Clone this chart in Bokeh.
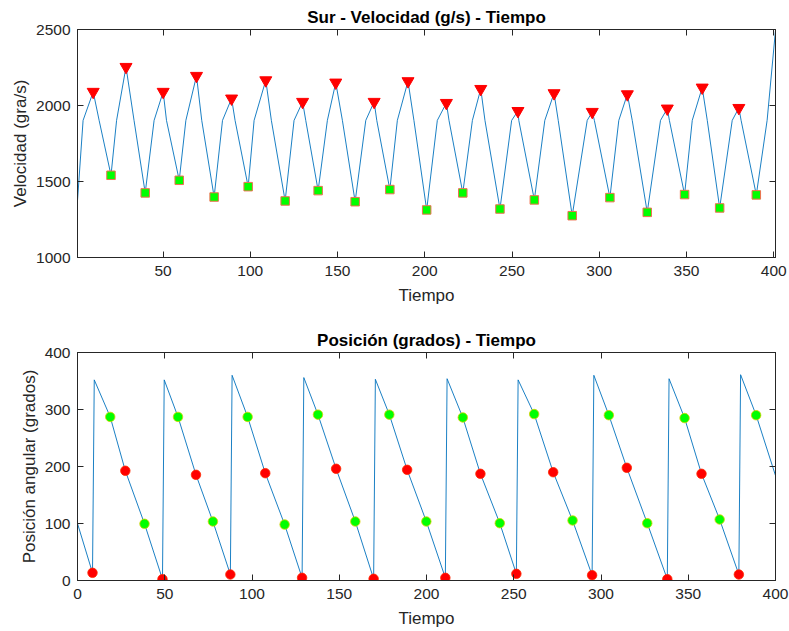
from bokeh.plotting import figure
from bokeh.layouts import column
from bokeh.models import Range1d, LinearAxis, FixedTicker
from bokeh.embed import file_html
from bokeh.resources import INLINE

# ---------------- data ----------------
# Top: velocity vs time
vel_start = (1, 1374)
vel_end = (401, 2495)
vel_peak_t = [10.0, 28.8, 50.1, 69.2, 89.3, 108.9, 130.0, 149.0, 171.0, 190.4,
              212.4, 232.1, 253.4, 274.1, 296.0, 316.1, 339.0, 359.0, 380.0]
vel_peak_v = [2090, 2254, 2090, 2195, 2046, 2166, 2024, 2151, 2024, 2160,
              2017, 2109, 1964, 2081, 1958, 2074, 1980, 2118, 1984]
vel_trough_t = [20.2, 39.8, 59.3, 79.3, 98.8, 120.0, 138.9, 160.1, 180.0, 201.1,
                221.8, 243.1, 262.8, 284.5, 306.1, 327.5, 348.9, 369.0, 390.0]
vel_trough_v = [1541, 1425, 1508, 1398, 1466, 1372, 1440, 1367, 1447, 1313,
                1425, 1319, 1379, 1275, 1394, 1297, 1414, 1326, 1412]
# times where the curve crosses 1902 g/s (rising / falling)
vel_cross_level = 1902
vel_up_t = [4.2, 23.4, 44.9, 63.1, 84.1, 102.2, 125.1, 144.2, 166.2, 184.3,
            207.2, 227.3, 249.8, 268.8, 293.1, 311.2, 335.1, 353.3, 376.2, 396.2]
vel_down_t = [13.4, 33.4, 52.0, 72.2, 91.3, 112.1, 131.8, 152.8, 172.5, 193.8,
              213.9, 234.5, 253.9, 276.5, 297.2, 318.9, 340.2, 361.9, 381.3]

# Bottom: angular position vs time
pos_start = (0, 100)
pos_end = (400, 184)
pos_jump_top_v = [352, 352, 360, 356, 353, 354, 352, 360, 354, 361]
red_low_t = [8.6, 48.7, 87.6, 128.7, 169.7, 210.8, 251.5, 294.9, 338.0, 379.0]
red_low_v = [13.5, 2.3, 10.5, 4.7, 3.0, 4.7, 11.7, 9.3, 2.3, 10.5]
red_mid_t = [27.4, 67.9, 107.6, 148.2, 188.9, 230.9, 272.6, 314.8, 357.6]
red_mid_v = [192.5, 185.4, 188.3, 196.0, 194.2, 187.2, 190.0, 197.7, 187.2]
green_hi_t = [18.75, 57.6, 97.5, 137.8, 178.7, 220.8, 261.7, 304.5, 347.9, 388.9]
green_hi_v = [287, 287, 287, 291, 291, 286, 292, 290, 285, 290]
green_lo_t = [38.4, 77.6, 118.7, 159.2, 199.9, 242.0, 283.7, 326.5, 368.0]
green_lo_v = [99.5, 103.5, 98.2, 103.5, 103.5, 100.5, 105.3, 100.5, 107.0]

# ticks
top_xticks = [50, 100, 150, 200, 250, 300, 350, 400]
top_yticks = [1000, 1500, 2000, 2500]
bot_xticks = [0, 50, 100, 150, 200, 250, 300, 350, 400]
bot_yticks = [0, 100, 200, 300, 400]

# ---------------- build line tables ----------------
vel_pts = [vel_start, vel_end]
vel_pts += list(zip(vel_peak_t, vel_peak_v))
vel_pts += list(zip(vel_trough_t, vel_trough_v))
vel_pts += [(t, vel_cross_level) for t in vel_up_t]
vel_pts += [(t, vel_cross_level) for t in vel_down_t]
vel_pts.sort()
vel_line_t = [a for a, b in vel_pts]
vel_line_v = [b for a, b in vel_pts]

pos_pts = [pos_start, pos_end]
pos_pts += list(zip(red_low_t, red_low_v))
pos_pts += list(zip(red_mid_t, red_mid_v))
pos_pts += list(zip(green_hi_t, green_hi_v))
pos_pts += list(zip(green_lo_t, green_lo_v))
pos_pts += [(t + 1, v) for t, v in zip(red_low_t, pos_jump_top_v)]
pos_pts.sort()
pos_line_t = [a for a, b in pos_pts]
pos_line_v = [b for a, b in pos_pts]

FONT = "Liberation Sans"
AX = "#262626"
BLUE = "#0072BD"


def style(p, xticks, yticks, xlabel, ylabel):
    p.grid.visible = False
    p.outline_line_color = AX
    p.outline_line_width = 1
    p.title.text_font = FONT
    p.title.text_font_size = "17px"
    p.title.text_font_style = "bold"
    p.title.text_color = "#000000"
    p.title.align = "center"
    p.title.standoff = 5
    for ax in p.below + p.left:
        ax.axis_line_color = AX
        ax.major_tick_line_color = AX
        ax.major_tick_in = 6
        ax.major_tick_out = 0
        ax.minor_tick_line_color = None
        ax.major_label_text_font = FONT
        ax.major_label_text_font_size = "15.5px"
        ax.major_label_text_color = AX
        ax.axis_label_text_font = FONT
        ax.axis_label_text_font_size = "17px"
        ax.axis_label_text_font_style = "normal"
        ax.axis_label_text_color = AX
    xa = p.below[0]
    ya = p.left[0]
    xa.ticker = FixedTicker(ticks=xticks)
    ya.ticker = FixedTicker(ticks=yticks)
    xa.axis_label = xlabel
    ya.axis_label = ylabel
    xa.major_label_standoff = 8
    ya.major_label_standoff = 7
    xa.axis_label_standoff = 7
    ya.axis_label_standoff = 3
    # mirrored ticks (box on), no labels
    for side, ticks in (("above", xticks), ("right", yticks)):
        a = LinearAxis(ticker=FixedTicker(ticks=ticks))
        a.major_label_text_font_size = "1px"
        a.major_label_text_color = None
        a.major_label_standoff = 0
        a.major_tick_in = 6
        a.major_tick_out = 0
        a.minor_tick_line_color = None
        a.major_tick_line_color = AX
        a.axis_line_color = AX
        p.add_layout(a, side)


p1 = figure(width=789, height=316, x_range=Range1d(1, 401), y_range=Range1d(1000, 2500),
            output_backend="svg", toolbar_location=None,
            title="Sur - Velocidad (g/s) - Tiempo",
            min_border_left=77, min_border_right=14, min_border_top=29, min_border_bottom=59)
style(p1, top_xticks, top_yticks, "Tiempo", "Velocidad (gra/s)")
p1.line(vel_line_t, vel_line_v, line_color=BLUE, line_width=0.9)
p1.scatter(vel_peak_t, vel_peak_v, marker="inverted_triangle", size=12,
           fill_color="#ff0000", line_color="#ff0000")
p1.scatter(vel_trough_t, vel_trough_v, marker="square", size=8.5,
           fill_color="#00ff00", line_color="#f07050", line_width=1)

p2 = figure(width=789, height=315, x_range=Range1d(0, 400), y_range=Range1d(0, 400),
            output_backend="svg", toolbar_location=None,
            title="Posición (grados) - Tiempo",
            min_border_left=77, min_border_right=14, min_border_top=36, min_border_bottom=51)
style(p2, bot_xticks, bot_yticks, "Tiempo", "Posición angular (grados)")
p2.line(pos_line_t, pos_line_v, line_color=BLUE, line_width=0.9)
p2.scatter(red_low_t + red_mid_t, red_low_v + red_mid_v, marker="circle", size=9.5,
           fill_color="#ff0000", line_color="#ff2a00", line_width=0.8)
p2.scatter(green_hi_t + green_lo_t, green_hi_v + green_lo_v, marker="circle", size=9.5,
           fill_color="#00ff00", line_color="#d8d000", line_width=0.8)

layout = column(p1, p2, spacing=0)
open("out.html", "w").write(file_html(layout, INLINE))
